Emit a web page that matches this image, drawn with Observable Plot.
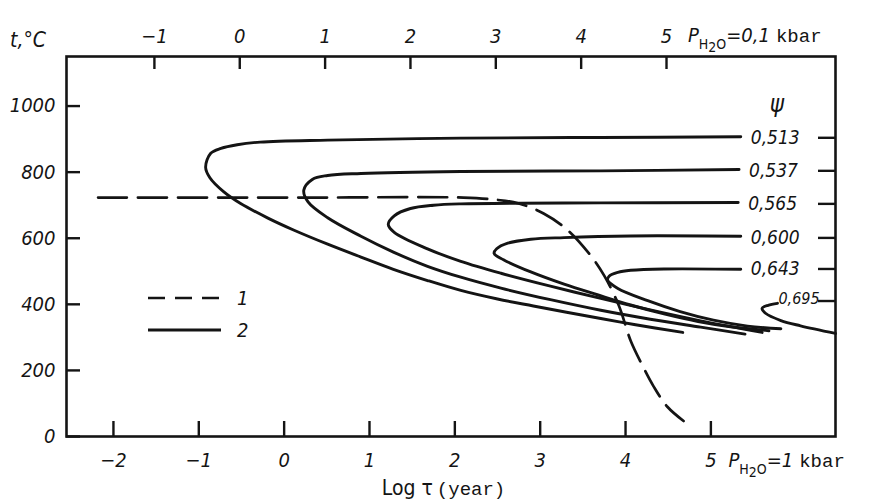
<!DOCTYPE html>
<html><head><meta charset="utf-8">
<script src="https://cdn.jsdelivr.net/npm/d3@7"></script>
<script src="https://cdn.jsdelivr.net/npm/@observablehq/plot@0.6"></script>
<style>
body{margin:0;background:#fff;}
#chart{position:relative;width:870px;height:501px;}
</style></head><body><div id="chart"></div>
<script>
// ---- data ----
const bottomTicks = [-2, -1, 0, 1, 2, 3, 4, 5];          // log τ, P(H2O)=1 kbar
const topTicks = [-1, 0, 1, 2, 3, 4, 5];                  // log τ, P(H2O)=0,1 kbar
const topShift = 0.52;                                    // offset of the 0,1 kbar scale
const tempTicks = [0, 200, 400, 600, 800, 1000];          // t, °C
const psiValues = ["0,513", "0,537", "0,565", "0,600", "0,643", "0,695"];
const psiMarkT = [904, 804, 704, 601, 507, 410];

const curve0513 = [[5.35,907],[3.7,905],[2.07,903],[0.51,897],[-0.28,891],[-0.55,883],[-0.74,872],[-0.86,857],[-0.92,815],[-0.87,783],[-0.71,741],[-0.51,705],[-0.19,661],[0.11,625],[0.51,582],[0.90,543],[1.28,506],[1.68,472],[2.07,442],[2.5,416],[2.92,395],[3.71,357],[4.10,339],[4.67,315]];
const curve0537 = [[5.33,808],[3.71,804],[2.07,802],[0.90,796],[0.51,790],[0.33,778],[0.23,745],[0.28,710],[0.51,662],[0.90,606],[1.28,558],[1.68,515],[2.07,482],[2.54,449],[3.12,414],[3.71,382],[4.29,355],[4.88,331],[5.40,310]];
const curve0565 = [[5.32,708],[3.71,707],[2.07,704],[1.75,700],[1.48,690],[1.29,668],[1.22,642],[1.29,618],[1.68,568],[2.07,530],[2.54,494],[3.12,455],[3.71,418],[4.29,383],[4.88,350],[5.60,315]];
const curve0600 = [[5.35,606],[4.06,607],[3.28,602],[2.89,597],[2.62,585],[2.49,568],[2.46,554],[2.57,535],[2.89,498],[3.28,461],[3.67,429],[4.06,398],[4.45,371],[4.85,348],[5.23,332],[5.68,320]];
const curve0643 = [[5.35,506],[4.45,507],[4.06,503],[3.91,497],[3.81,486],[3.79,473],[3.91,448],[4.26,411],[4.64,378],[5.03,352],[5.43,334],[5.82,326]];
const curve0695 = [[5.78,403],[5.67,397],[5.60,388],[5.64,373],[5.82,351],[6.05,335],[6.46,312]];
const curve1 = [[-2.18,723],[0.2,723],[2.1,723],[2.5,716],[2.74,706],[3.04,675],[3.32,625],[3.59,548],[3.75,487],[3.92,397],[4.06,290],[4.19,219],[4.33,151],[4.49,90],[4.68,47]];

// ---- build tables ----
const curves = [curve0513, curve0537, curve0565, curve0600, curve0643, curve0695]
  .map((pts, i) => ({psi: psiValues[i], tick: psiMarkT[i], pts}));
const solidRows = curves.flatMap(c => c.pts.map(([x, t]) => ({psi: c.psi, x, t})));
const dashedRows = curve1.map(([x, t]) => ({x, t}));
const labelRows = curves.map(c => ({psi: c.psi, tick: c.tick, x0: c.pts[0][0]}));

const ink = "#141414";
const sans = `"DejaVu Sans Condensed","Liberation Sans Narrow","DejaVu Sans",sans-serif`;
const mono = `"Liberation Mono","DejaVu Sans Mono",monospace`;
const fmt = d => d < 0 ? "\u2212" + Math.abs(d) : String(d);

const plot = Plot.plot({
  width: 870, height: 501,
  marginLeft: 66, marginRight: 35, marginTop: 56, marginBottom: 65,
  x: {domain: [-2.55, 6.46], axis: null, label: null},
  y: {domain: [0, 1150], axis: null, label: null},
  style: {fontFamily: sans, background: "#fff", color: ink, overflow: "visible"},
  marks: [
    Plot.frame({stroke: ink, strokeWidth: 2.6}),
    Plot.axisX(bottomTicks, {anchor: "bottom", tickSize: -15, tickPadding: 31, fontSize: 20, fontStyle: "italic",
      tickFormat: fmt, strokeWidth: 2.4, label: null}),
    Plot.axisX(topTicks.map(t => t - topShift), {anchor: "top", tickSize: -12, tickPadding: 26, fontSize: 20, fontStyle: "italic",
      tickFormat: d => fmt(Math.round(d + topShift)), strokeWidth: 2.4, label: null}),
    Plot.axisY(tempTicks, {anchor: "left", tickSize: -14, tickPadding: 25, fontSize: 20, fontStyle: "italic",
      tickFormat: d => String(d), strokeWidth: 2.4, label: null}),
    Plot.axisY(psiMarkT, {anchor: "right", tickSize: -18, tickFormat: () => "", strokeWidth: 2.4, label: null}),
    Plot.line(solidRows, {x: "x", y: "t", z: "psi", curve: "catmull-rom", stroke: ink, strokeWidth: 2.9}),
    Plot.line(dashedRows, {x: "x", y: "t", curve: "catmull-rom", stroke: ink, strokeWidth: 2.7, strokeDasharray: "29,11"}),
    Plot.text(labelRows.slice(0, 5), {x: "x0", y: "tick", text: "psi", dx: 10, textAnchor: "start",
      fontSize: 19, fontStyle: "italic", fill: ink}),
    Plot.text(labelRows.slice(5), {x: "x0", y: "tick", text: "psi", dx: 1, dy: -2, textAnchor: "start",
      fontSize: 16, fontStyle: "italic", fill: ink}),
    Plot.text(labelRows.slice(0, 1), {x: "x0", y: "tick", text: () => "\u03c8", dx: 36, dy: -33,
      fontSize: 24, fontStyle: "italic", fill: ink})
  ]
});

document.getElementById("chart").appendChild(plot);

// ---- extra text and legend, positioned via the plot's scales ----
const sx = plot.scale("x"), sy = plot.scale("y");
const svg = d3.select(plot);
const x0 = sx.apply(-2.55), y0 = sy.apply(0), yTop = sy.apply(1150);

svg.append("text").attr("x", 10).attr("y", yTop - 9).attr("text-anchor", "start")
  .attr("font-family", sans).attr("font-size", 21).attr("font-style", "italic").attr("fill", ink)
  .text("t,\u00b0C");

function pressure(x, y, value) {
  const t = svg.append("text").attr("x", x).attr("y", y).attr("fill", ink).attr("text-anchor", "start")
    .attr("font-family", sans).attr("font-size", 20).attr("font-style", "italic");
  t.append("tspan").text("P");
  t.append("tspan").attr("font-size", 14).attr("dy", 7).attr("font-style", "normal").text("H");
  t.append("tspan").attr("font-size", 14).attr("dy", 3).attr("font-style", "normal").text("2");
  t.append("tspan").attr("font-size", 14).attr("dy", -3).attr("font-style", "normal").text("O");
  t.append("tspan").attr("dy", -7).text("=" + value);
  t.append("tspan").attr("font-family", mono).attr("font-style", "normal").attr("font-size", 19).attr("dx", 6).text("kbar");
}
pressure(sx.apply(5) + 18, y0 + 31, "1");
pressure(sx.apply(5 - topShift) + 22, yTop - 14, "0,1");

const xl = svg.append("text").attr("x", sx.apply(1.15)).attr("y", 495).attr("fill", ink).attr("text-anchor", "start")
  .attr("font-family", sans).attr("font-size", 21);
xl.append("tspan").text("Log \u03c4");
xl.append("tspan").attr("font-family", mono).attr("font-size", 19).attr("dx", 4).text("(year)");

const leg = svg.append("g");
leg.append("line").attr("x1", x0 + 82).attr("x2", x0 + 155).attr("y1", 298).attr("y2", 298)
  .attr("stroke", ink).attr("stroke-width", 2.6).attr("stroke-dasharray", "17,10");
leg.append("line").attr("x1", x0 + 82).attr("x2", x0 + 155).attr("y1", 330).attr("y2", 330)
  .attr("stroke", ink).attr("stroke-width", 3.2);
leg.append("text").attr("x", x0 + 171).attr("y", 305).attr("text-anchor", "start").attr("font-family", sans).attr("font-size", 20)
  .attr("font-style", "italic").attr("fill", ink).text("1");
leg.append("text").attr("x", x0 + 171).attr("y", 337).attr("text-anchor", "start").attr("font-family", sans).attr("font-size", 20)
  .attr("font-style", "italic").attr("fill", ink).text("2");
</script></body></html>
